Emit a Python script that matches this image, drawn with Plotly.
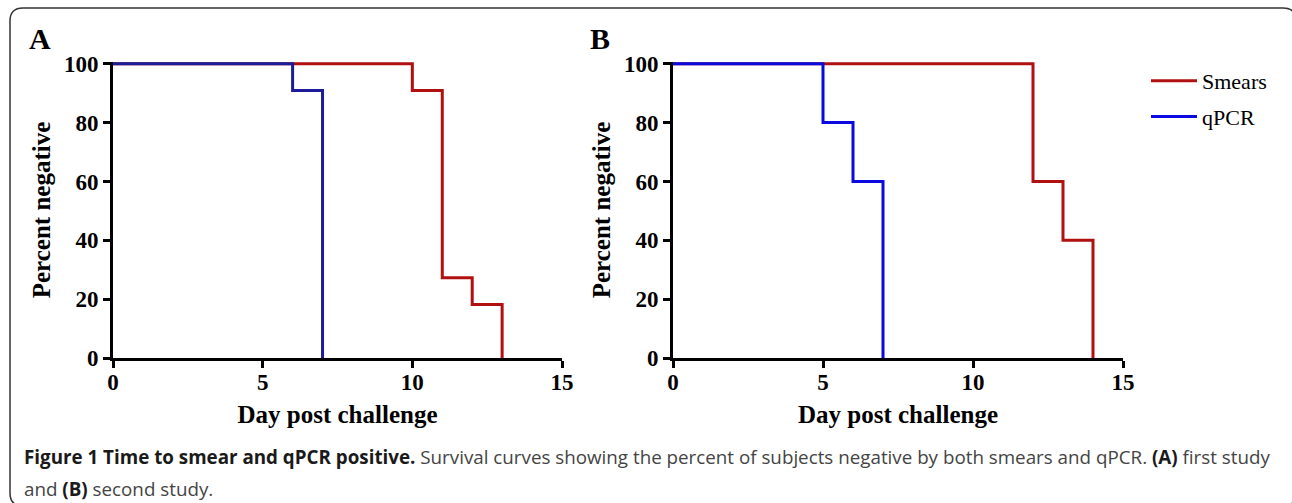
import plotly.graph_objects as go

# ---- data ----
days_A_smears = [0, 10, 11, 12, 13]
pct_A_smears = [100, 90.9, 27.3, 18.2, 0]
days_A_qpcr = [0, 6, 7]
pct_A_qpcr = [100, 90.9, 0]

days_B_smears = [0, 12, 13, 14]
pct_B_smears = [100, 60, 40, 0]
days_B_qpcr = [0, 5, 6, 7]
pct_B_qpcr = [100, 80, 60, 0]

x_ticks = [0, 5, 10, 15]
y_ticks = [0, 20, 40, 60, 80, 100]

RED = "#b01010"
BLUE_A = "#1c1c9a"
BLUE_B = "#0a0ae0"
SERIF = "Liberation Serif"

W, H = 1292, 503

fig = go.Figure()

fig.add_trace(go.Scatter(x=days_A_smears, y=pct_A_smears, mode="lines", line_shape="hv",
                         line=dict(color=RED, width=3), showlegend=False, xaxis="x", yaxis="y"))
fig.add_trace(go.Scatter(x=days_A_qpcr, y=pct_A_qpcr, mode="lines", line_shape="hv",
                         line=dict(color=BLUE_A, width=3), showlegend=False, xaxis="x", yaxis="y"))
fig.add_trace(go.Scatter(x=days_B_smears, y=pct_B_smears, mode="lines", line_shape="hv",
                         line=dict(color=RED, width=3), name="Smears", legendgroup="s",
                         xaxis="x2", yaxis="y2"))
fig.add_trace(go.Scatter(x=days_B_qpcr, y=pct_B_qpcr, mode="lines", line_shape="hv",
                         line=dict(color=BLUE_B, width=3), name="qPCR", legendgroup="q",
                         xaxis="x2", yaxis="y2"))

def px_x(p):
    return p / W

def px_y(p):
    return (H - p) / H

ydom = [px_y(358), px_y(62)]

common_x = dict(range=[0, 15], tickvals=x_ticks, showline=True, linecolor="black", linewidth=3,
                ticks="outside", ticklen=7, tickwidth=2.5, tickcolor="black", showgrid=False,
                zeroline=False, automargin=False, ticklabelstandoff=-6,
                tickfont=dict(family=SERIF, size=23, color="black", weight="bold"),
                title=dict(text="<b>Day post challenge</b>", font=dict(family=SERIF, size=25, color="black"),
                           standoff=12))
common_y = dict(range=[0, 100.6], tickvals=y_ticks, showline=True, linecolor="black", linewidth=3,
                ticks="outside", ticklen=7, tickwidth=2.5, tickcolor="black", showgrid=False,
                zeroline=False, automargin=False,
                tickfont=dict(family=SERIF, size=23, color="black", weight="bold"),
                title=dict(text="<b>Percent negative</b>", font=dict(family=SERIF, size=25, color="black"),
                           standoff=7))

fig.update_layout(
    width=W, height=H, autosize=False,
    margin=dict(l=0, r=0, t=0, b=0, pad=0, autoexpand=False),
    paper_bgcolor="white", plot_bgcolor="white",
    xaxis=dict(domain=[px_x(113), px_x(562)], anchor="y", **common_x),
    yaxis=dict(domain=ydom, anchor="x", **common_y),
    xaxis2=dict(domain=[px_x(673), px_x(1123)], anchor="y2", **common_x),
    yaxis2=dict(domain=ydom, anchor="x2", **common_y),
    legend=dict(x=px_x(1146), y=px_y(60), xanchor="left", yanchor="top",
                font=dict(family=SERIF, size=22, color="black"),
                bgcolor="rgba(0,0,0,0)", itemwidth=46, tracegroupgap=4),
    showlegend=True,
)

# panel letters
for letter, lx in (("A", 40), ("B", 600)):
    fig.add_annotation(text=f"<b>{letter}</b>", x=px_x(lx), y=px_y(39), xref="paper", yref="paper",
                       xanchor="center", yanchor="middle", showarrow=False,
                       font=dict(family=SERIF, size=30, color="black"))

# caption (two lines)
DARK = "#1a1a1a"
caption_line1 = (f"<b><span style='color:{DARK}'>Figure 1 Time to smear and qPCR positive.</span></b> "
                 "Survival curves showing the percent of subjects "
                 f"negative by both smears and qPCR. <b><span style='color:{DARK}'>(A)</span></b> first study")
caption_line2 = f"and <b><span style='color:{DARK}'>(B)</span></b> second study."
for txt, cy in ((caption_line1, 457), (caption_line2, 489)):
    fig.add_annotation(text=txt, x=px_x(22), y=px_y(cy), xref="paper", yref="paper",
                       xanchor="left", yanchor="middle", align="left", showarrow=False,
                       font=dict(family="Open Sans", size=18.8, color="#444444"))

# rounded border
l, t, r, b, rad = 10, 8, 1296, 506, 13
def P(x, y):
    return f"{px_x(x):.5f},{px_y(y):.5f}"
path = (f"M {P(l + rad, t)} L {P(r - rad, t)} Q {P(r, t)} {P(r, t + rad)} "
        f"L {P(r, b - rad)} Q {P(r, b)} {P(r - rad, b)} L {P(l + rad, b)} "
        f"Q {P(l, b)} {P(l, b - rad)} L {P(l, t + rad)} Q {P(l, t)} {P(l + rad, t)} Z")
fig.add_shape(type="path", path=path, xref="paper", yref="paper",
              line=dict(color="#333333", width=1.5))

fig.write_html("out.html", config={"displayModeBar": False},
               post_script="document.body.style.margin='0';document.body.style.overflow='hidden';")
